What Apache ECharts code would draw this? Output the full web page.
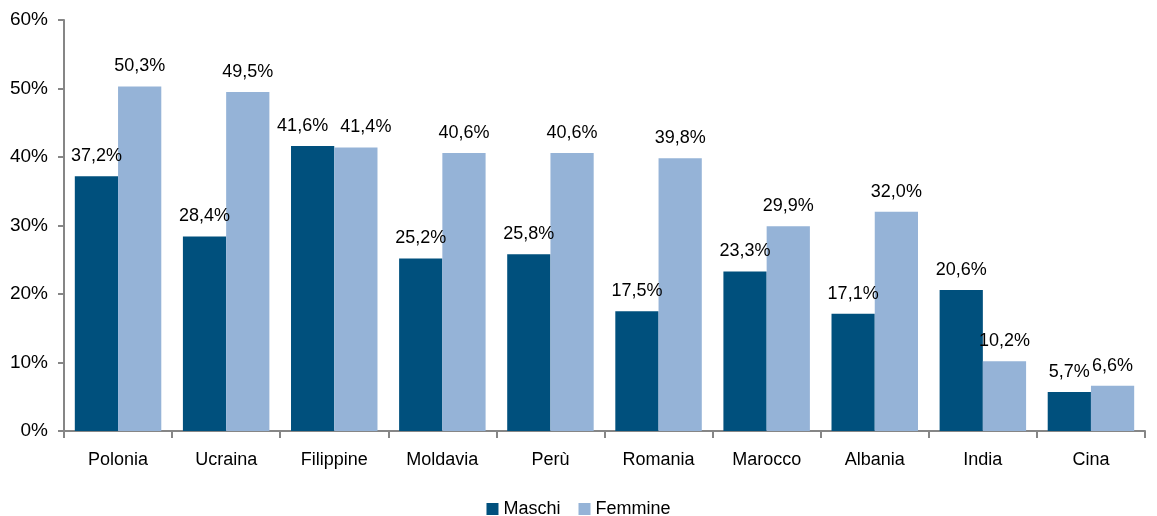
<!DOCTYPE html>
<html>
<head>
<meta charset="utf-8">
<script src="https://cdn.jsdelivr.net/npm/echarts@6/dist/echarts.min.js"></script>
<style>
html,body{margin:0;padding:0;background:#fff;}
#main{width:1157px;height:516px;}
</style>
</head>
<body>
<div id="main"></div>
<script>
var paesi = ['Polonia', 'Ucraina', 'Filippine', 'Moldavia', 'Perù', 'Romania', 'Marocco', 'Albania', 'India', 'Cina'];
var maschi = [37.2, 28.4, 41.6, 25.2, 25.8, 17.5, 23.3, 17.1, 20.6, 5.7];
var femmine = [50.3, 49.5, 41.4, 40.6, 40.6, 39.8, 29.9, 32.0, 10.2, 6.6];

var font = '"Liberation Sans", Arial, sans-serif';
function perc(v) {
    return v.toFixed(1).replace('.', ',') + '%';
}
// etichette quasi alla stessa altezza: allontanarle un po'
function items(vals, other, dir) {
    return vals.map(function (v, i) {
        var o = {value: v};
        if (Math.abs(v - other[i]) < 0.5) o.label = {offset: [dir * 10, 0]};
        return o;
    });
}

var chart = echarts.init(document.getElementById('main'));
chart.setOption({
    animation: false,
    textStyle: {fontFamily: font},
    grid: {left: 64, right: 12, top: 20, bottom: 85},
    legend: {
        top: 495,
        left: 'center',
        itemWidth: 12,
        itemHeight: 12,
        itemGap: 18,
        icon: 'rect',
        textStyle: {fontSize: 18, color: '#000', fontFamily: font},
        data: ['Maschi', 'Femmine']
    },
    xAxis: {
        type: 'category',
        data: paesi,
        axisLine: {lineStyle: {color: '#868686', width: 2}},
        axisTick: {show: true, length: 7, lineStyle: {color: '#868686', width: 2}},
        axisLabel: {color: '#000', fontSize: 18, margin: 20, fontFamily: font}
    },
    yAxis: {
        type: 'value',
        min: 0,
        max: 60,
        interval: 10,
        axisLine: {show: true, lineStyle: {color: '#868686', width: 2}},
        axisTick: {show: true, length: 6, lineStyle: {color: '#868686', width: 2}},
        splitLine: {show: false},
        axisLabel: {
            color: '#000', fontSize: 19, margin: 16, fontFamily: font,
            formatter: function (v) { return v + '%'; }
        }
    },
    series: [{
        name: 'Maschi',
        type: 'bar',
        data: items(maschi, femmine, -1),
        barGap: '0%',
        barCategoryGap: '20%',
        itemStyle: {color: '#00507D'},
        label: {show: true, position: 'top', distance: 11, color: '#000', fontSize: 18, fontFamily: font,
            formatter: function (p) { return perc(p.value); }}
    }, {
        name: 'Femmine',
        type: 'bar',
        data: items(femmine, maschi, 1),
        itemStyle: {color: '#95B3D7'},
        label: {show: true, position: 'top', distance: 11, color: '#000', fontSize: 18, fontFamily: font,
            formatter: function (p) { return perc(p.value); }}
    }]
});
</script>
</body>
</html>
